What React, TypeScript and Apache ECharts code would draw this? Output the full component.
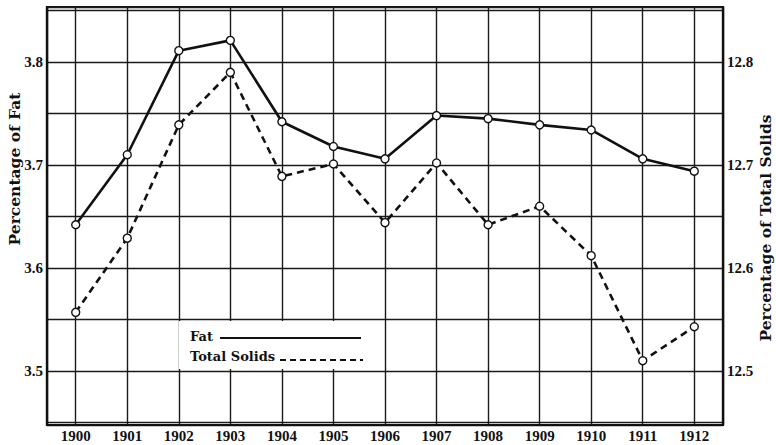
import React, { useEffect, useRef } from "react";
import * as echarts from "echarts";

const years = [1900, 1901, 1902, 1903, 1904, 1905, 1906, 1907, 1908, 1909, 1910, 1911, 1912];
const fatValues = [3.642, 3.710, 3.811, 3.821, 3.742, 3.718, 3.706, 3.748, 3.745, 3.739, 3.734, 3.706, 3.694];
const totalSolidsValues = [12.557, 12.629, 12.739, 12.790, 12.689, 12.701, 12.644, 12.702, 12.642, 12.660, 12.612, 12.510, 12.543];
const fatAxisRange = [3.4476, 3.8534];
const solidsAxisRange = [12.4476, 12.8534];
const yearRange = [1899.443, 1912.557];
const leftAxisTitle = "Percentage of Fat";
const rightAxisTitle = "Percentage of Total Solids";
const legendFat = "Fat";
const legendSolids = "Total Solids";

const tickFont = {
  fontFamily: "'Liberation Serif', serif",
  fontWeight: "bold" as const,
  fontSize: 15,
  color: "#111",
};

const tenthLabel = (v: number) => {
  const r = Math.round(v * 100);
  if (Math.abs(v * 100 - r) > 0.01) return "";
  if (r % 10 !== 0) return "";
  return (r / 100).toFixed(1);
};

export default function App() {
  const ref = useRef<HTMLDivElement>(null);
  useEffect(() => {
    if (!ref.current) return;
    const chart = echarts.init(ref.current, null, { renderer: "svg" });
    const splitLine = { show: true, lineStyle: { color: "#1a1a1a", width: 1.4 } };
    const axisLine = { show: true, lineStyle: { color: "#111", width: 2.2 } };
    const titleStyle = {
      fontFamily: "'DejaVu Serif', serif",
      fontWeight: "bold",
      fontSize: 15.5,
      fill: "#111",
    };
    chart.setOption({
      animation: false,
      backgroundColor: "#fff",
      grid: {
        left: 47,
        right: 53,
        top: 7,
        bottom: 20,
        show: true,
        borderColor: "#111",
        borderWidth: 2.2,
      },
      xAxis: {
        type: "value",
        min: yearRange[0],
        max: yearRange[1],
        minInterval: 1,
        maxInterval: 1,
        axisLine,
        axisTick: { show: false },
        splitLine,
        axisLabel: {
          ...tickFont,
          margin: 3,
          formatter: (v: number) => (Math.abs(v - Math.round(v)) < 0.001 ? String(Math.round(v)) : ""),
        },
      },
      yAxis: [
        {
          type: "value",
          min: fatAxisRange[0],
          max: fatAxisRange[1],
          minInterval: 0.05,
          maxInterval: 0.05,
          splitNumber: 8,
          axisLine,
          axisTick: { show: false },
          splitLine,
          axisLabel: { ...tickFont, margin: 4, formatter: tenthLabel },
        },
        {
          type: "value",
          position: "right",
          min: solidsAxisRange[0],
          max: solidsAxisRange[1],
          minInterval: 0.05,
          maxInterval: 0.05,
          splitNumber: 8,
          axisLine,
          axisTick: { show: false },
          splitLine: { show: false },
          axisLabel: { ...tickFont, margin: 4, formatter: tenthLabel },
        },
      ],
      series: [
        {
          name: legendFat,
          type: "line",
          yAxisIndex: 0,
          data: years.map((y, i) => [y, fatValues[i]]),
          symbol: "circle",
          symbolSize: 8,
          lineStyle: { color: "#111", width: 2.6 },
          itemStyle: { color: "#fff", borderColor: "#111", borderWidth: 1.4 },
          z: 5,
        },
        {
          name: legendSolids,
          type: "line",
          yAxisIndex: 1,
          data: years.map((y, i) => [y, totalSolidsValues[i]]),
          symbol: "circle",
          symbolSize: 8,
          lineStyle: { color: "#111", width: 2.6, type: [7, 5] },
          itemStyle: { color: "#fff", borderColor: "#111", borderWidth: 1.4 },
          z: 5,
        },
      ],
      graphic: [
        {
          type: "text",
          x: 14,
          y: 169,
          rotation: Math.PI / 2,
          style: { ...titleStyle, text: leftAxisTitle, align: "center", verticalAlign: "middle" },
        },
        {
          type: "text",
          x: 765,
          y: 228,
          rotation: Math.PI / 2,
          style: { ...titleStyle, text: rightAxisTitle, align: "center", verticalAlign: "middle" },
        },
        {
          type: "rect",
          z: 10,
          shape: { x: 179, y: 321, width: 193, height: 48 },
          style: { fill: "#fff" },
        },
        {
          type: "text",
          z: 11,
          x: 190,
          y: 336,
          style: {
            text: legendFat,
            fontFamily: "'DejaVu Serif', serif",
            fontWeight: "bold",
            fontSize: 13,
            fill: "#111",
            verticalAlign: "middle",
          },
        },
        {
          type: "line",
          z: 11,
          shape: { x1: 220, y1: 338, x2: 361, y2: 338 },
          style: { stroke: "#111", lineWidth: 2.2 },
        },
        {
          type: "text",
          z: 11,
          x: 190,
          y: 356,
          style: {
            text: legendSolids,
            fontFamily: "'DejaVu Serif', serif",
            fontWeight: "bold",
            fontSize: 13,
            fill: "#111",
            verticalAlign: "middle",
          },
        },
        {
          type: "line",
          z: 11,
          shape: { x1: 280, y1: 360, x2: 363, y2: 360 },
          style: { stroke: "#111", lineWidth: 2, lineDash: [6, 4] },
        },
      ],
    });
    return () => chart.dispose();
  }, []);
  return (
    <div
      ref={ref}
      style={{ position: "absolute", left: 0, top: 0, width: 776, height: 445, background: "#fff" }}
    />
  );
}
